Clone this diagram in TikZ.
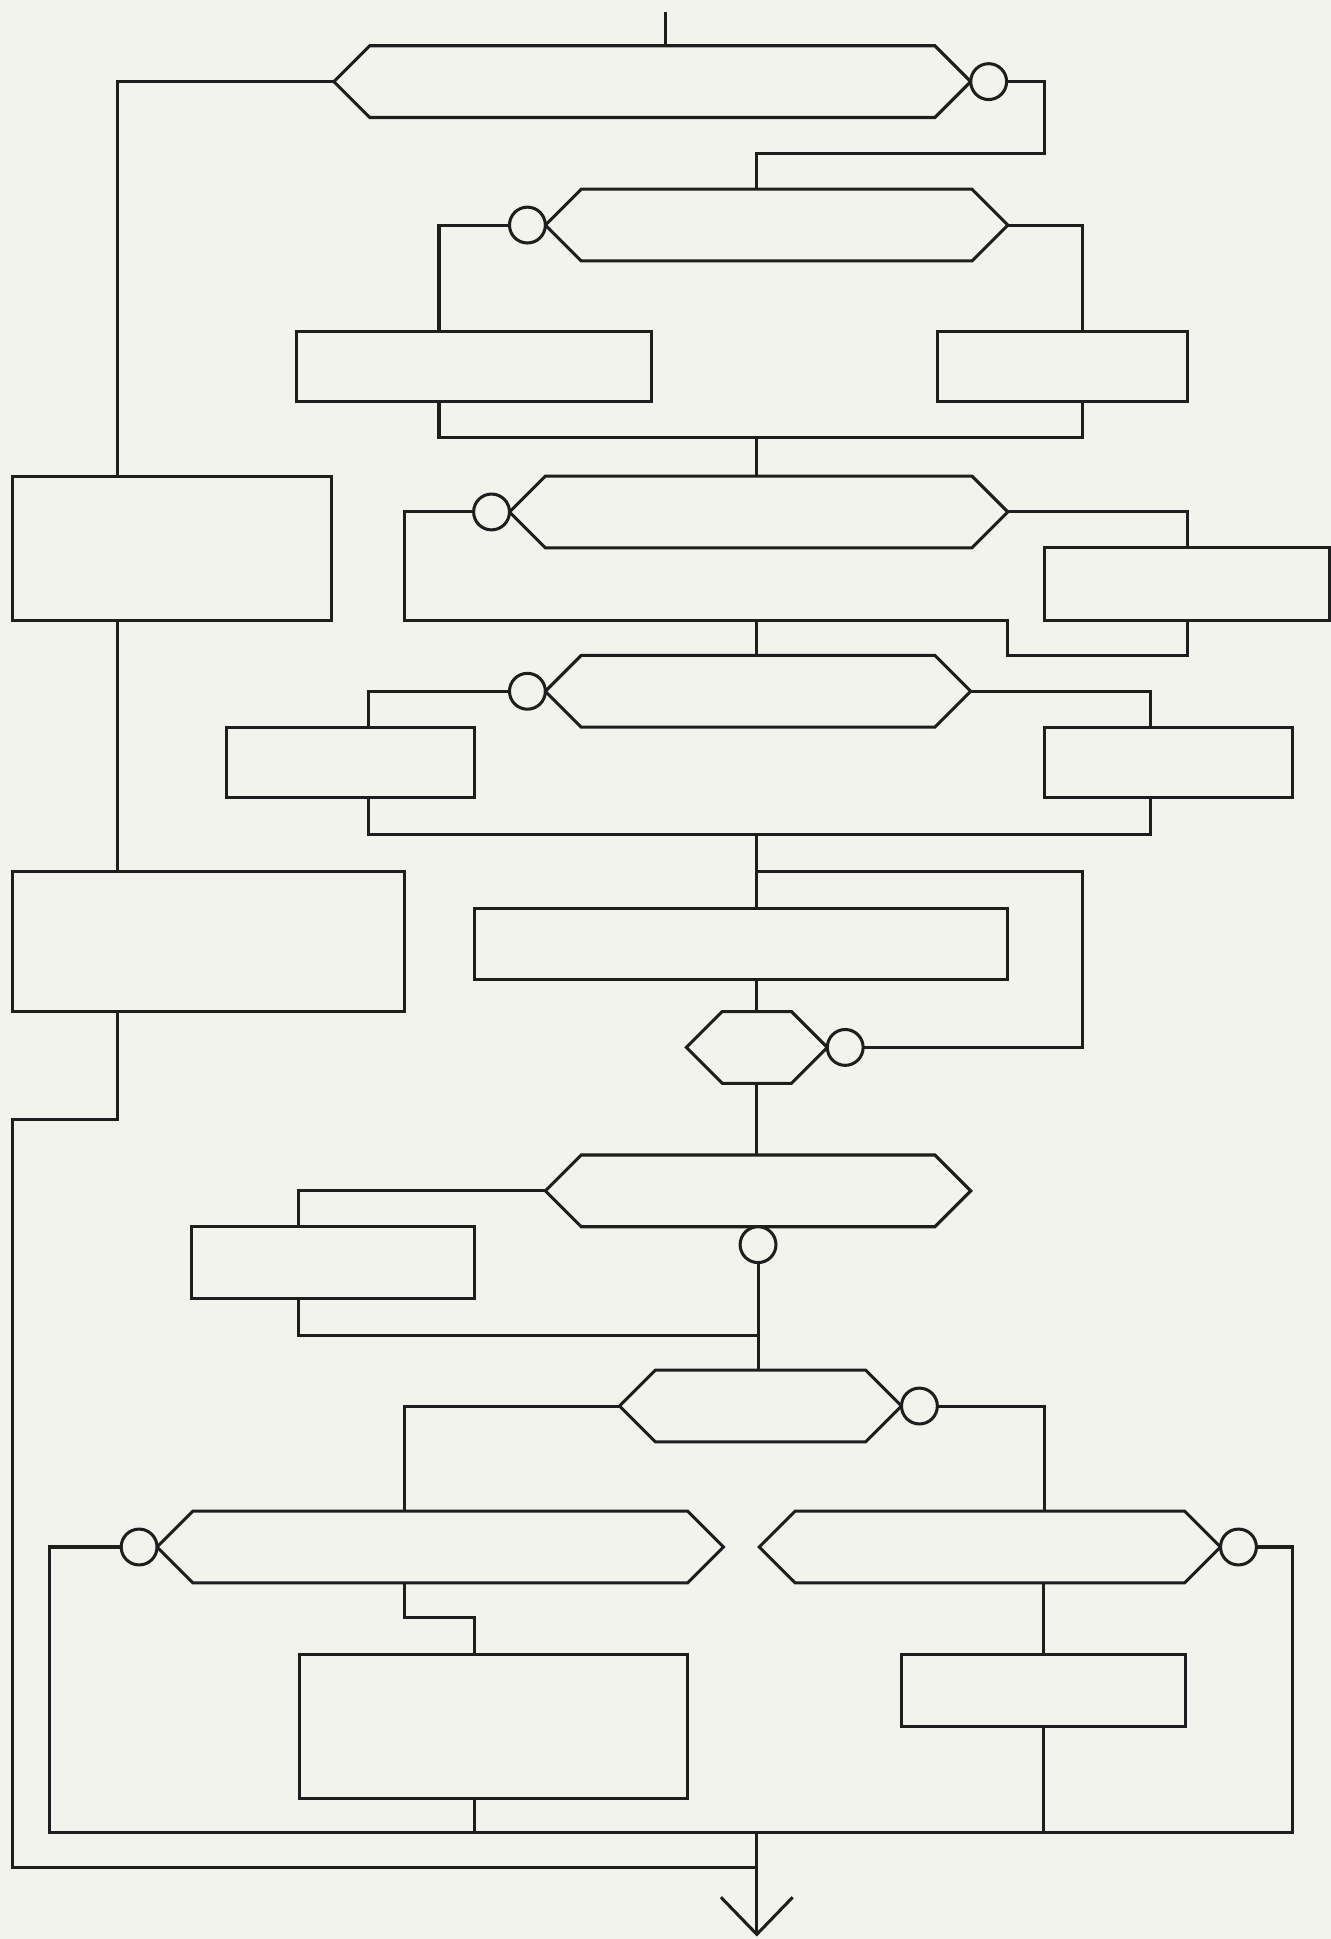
\documentclass[tikz,border=0pt]{standalone}
\usepackage{tikz}
\usetikzlibrary{arrows.meta, positioning, shapes.symbols}
\usepackage{xcolor}
\definecolor{paper}{RGB}{242,243,236}
\definecolor{ink}{RGB}{30,30,30}
\def\px{0.5mm}

\begin{document}
\begin{tikzpicture}[x=\px, y=-\px, line width=3.5pt, color=ink,
  actbox/.style={draw, fill=paper, rectangle, inner sep=0pt, outer sep=0pt},
  decbox/.style={draw, fill=paper, signal, signal to=west and east, signal pointer angle=90,
    minimum height=58*\px, inner sep=0pt, outer sep=0pt},
  negring/.style={draw, fill=paper, circle, minimum size=29*\px, inner sep=0pt, outer sep=0pt}]
  \fill[paper] (0,0) rectangle (1076,1568);
  \useasboundingbox (0,0) rectangle (1076,1568);

  % decisions
  \node[decbox, minimum width=515*\px] (dec1) at (527.5,66) {};
  \node[negring, right=0pt of dec1] (neg1) {};
  \node[decbox, minimum width=374*\px] (dec2) at (628,182) {};
  \node[negring, left=0pt of dec2] (neg2) {};
  \node[decbox, minimum width=403*\px] (dec3) at (613.5,414) {};
  \node[negring, left=0pt of dec3] (neg3) {};
  \node[decbox, minimum width=344*\px] (dec4) at (613,559) {};
  \node[negring, left=0pt of dec4] (neg4) {};
  \node[decbox, minimum width=114*\px] (dec5) at (612,847) {};
  \node[negring, right=0pt of dec5] (neg5) {};
  \node[decbox, minimum width=344*\px] (dec6) at (613,963) {};
  \node[negring, below=0pt of dec6] (neg6) {};
  \node[decbox, minimum width=228*\px] (dec7) at (615,1137) {};
  \node[negring, right=0pt of dec7] (neg7) {};
  \node[decbox, minimum width=458*\px] (dec8) at (356,1251) {};
  \node[negring, left=0pt of dec8] (neg8) {};
  \node[decbox, minimum width=373*\px] (dec9) at (800.5,1251) {};
  \node[negring, right=0pt of dec9] (neg9) {};

  % actions
  \node[actbox, minimum width=258*\px, minimum height=117*\px] (act1) at (139,443.5) {};
  \node[actbox, minimum width=287*\px, minimum height=57*\px] (act2) at (383.5,296.5) {};
  \node[actbox, minimum width=202*\px, minimum height=57*\px] (act3) at (859,296.5) {};
  \node[actbox, minimum width=230*\px, minimum height=59*\px] (act4) at (960,472.5) {};
  \node[actbox, minimum width=201*\px, minimum height=57*\px] (act5) at (283.5,616.5) {};
  \node[actbox, minimum width=200*\px, minimum height=57*\px] (act6) at (945,616.5) {};
  \node[actbox, minimum width=317*\px, minimum height=113*\px] (act7) at (168.5,761.5) {};
  \node[actbox, minimum width=431*\px, minimum height=57*\px] (act8) at (599.5,763.5) {};
  \node[actbox, minimum width=229*\px, minimum height=58*\px] (act9) at (269.5,1021) {};
  \node[actbox, minimum width=314*\px, minimum height=116*\px] (act10) at (399,1396) {};
  \node[actbox, minimum width=230*\px, minimum height=58*\px] (act11) at (844,1367) {};

  % lanes and bends
  \coordinate (entry) at (538,10);
  \coordinate (spine) at (612,0);
  \coordinate (trunk) at (95,0);
  \coordinate (lane241) at (241,0);
  \coordinate (lane298) at (298,0);
  \coordinate (lane327) at (327,0);
  \coordinate (lane355) at (355,0);
  \coordinate (lane845) at (845,0);
  \coordinate (lane875) at (875,0);
  \coordinate (lane930) at (930,0);
  \coordinate (back1) at (845,124);
  \coordinate (join2) at (612,354);
  \coordinate (bend3a) at (327,502);
  \coordinate (bend3b) at (815,530);
  \coordinate (join4) at (612,675);
  \coordinate (back5) at (875,705);
  \coordinate (join6) at (612,1080);
  \coordinate (step8) at (384,1308);
  \coordinate (baseL) at (40,1482);
  \coordinate (baseR) at (1045,1482);
  \coordinate (join9) at (612,1482);
  \coordinate (outer) at (10,905);
  \coordinate (joinlow) at (612,1510);
  \coordinate (exit) at (612,1566);

  \draw (entry) -- (entry |- dec1.north);
  \draw (dec1.west) -| (trunk |- act1.north);
  \draw (trunk |- act1.south) -- (trunk |- act7.north);
  \draw (trunk |- act7.south) |- (outer) |- (joinlow);
  \draw (neg1.east) -| (back1) -| (spine |- dec2.north);

  \draw (neg2.west) -| (lane355 |- act2.north);
  \draw (dec2.east) -| (lane875 |- act3.north);
  \draw (lane355 |- act2.south) |- (join2) -| (lane875 |- act3.south);
  \draw (join2) -- (spine |- dec3.north);

  \draw (neg3.west) -| (bend3a) -| (bend3b) -| (act4.south);
  \draw (dec3.east) -| (act4.north);
  \draw (spine |- bend3a) -- (spine |- dec4.north);

  \draw (neg4.west) -| (lane298 |- act5.north);
  \draw (dec4.east) -| (lane930 |- act6.north);
  \draw (lane298 |- act5.south) |- (join4) -| (lane930 |- act6.south);
  \draw (join4) -- (spine |- act8.north);
  \draw (spine |- back5) -- (back5) |- (neg5.east);
  \draw (spine |- act8.south) -- (dec5.north);
  \draw (dec5.south) -- (spine |- dec6.north);

  \draw (dec6.west) -| (lane241 |- act9.north);
  \draw (lane241 |- act9.south) |- (join6);
  \draw (neg6.south) -- (neg6.south |- dec7.north);

  \draw (dec7.west) -| (lane327 |- dec8.north);
  \draw (neg7.east) -| (lane845 |- dec9.north);
  \draw (lane327 |- dec8.south) |- (step8) -- (step8 |- act10.north);
  \draw (step8 |- act10.south) -- (step8 |- join9);
  \draw (act11.north |- dec9.south) -- (act11.north);
  \draw (act11.south) -- (act11.south |- join9);
  \draw (neg8.west) -| (baseL) -- (baseR) |- (neg9.east);
  \draw[-{Straight Barb[length=15mm, width=29mm]}] (join9) -- (exit);
\end{tikzpicture}
\end{document}
